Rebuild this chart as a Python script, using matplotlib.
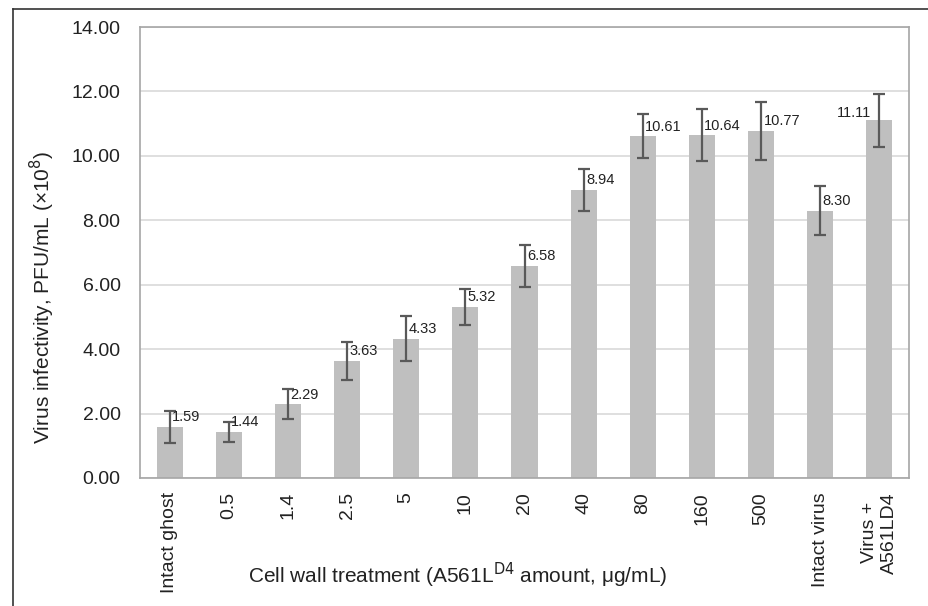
import numpy as np
import matplotlib.pyplot as plt
from matplotlib.lines import Line2D

plt.rcParams['font.family'] = ['Liberation Sans', 'DejaVu Sans']

categories = ["Intact ghost", "0.5", "1.4", "2.5", "5", "10", "20", "40",
              "80", "160", "500", "Intact virus", "Virus +\nA561LD4"]
values = [1.59, 1.44, 2.29, 3.63, 4.33, 5.32, 6.58, 8.94,
          10.61, 10.64, 10.77, 8.30, 11.11]
errors = [0.50, 0.31, 0.47, 0.58, 0.70, 0.56, 0.65, 0.65,
          0.68, 0.80, 0.90, 0.76, 0.82]

fig = plt.figure(figsize=(9.29, 6.06), dpi=100)
ax = fig.add_axes([140 / 929, 1 - 478 / 606, 769 / 929, 451 / 606])

x = np.arange(len(categories))
ax.bar(x, values, width=0.44, color="#bfbfbf", zorder=2)
ax.errorbar(x, values, yerr=errors, fmt="none", ecolor="#595959",
            elinewidth=1.6, capsize=4.5, capthick=1.6, zorder=3)

# value labels next to the error bars
for i, (v, e) in enumerate(zip(values, errors)):
    if i == len(values) - 1:
        ax.text(i - 0.14, v + 0.23, f"{v:.2f}", ha="right", va="center",
                fontsize=10.5, color="#222222", zorder=4)
    else:
        ax.text(i + 0.04, v + 0.3, f"{v:.2f}", ha="left", va="center",
                fontsize=10.5, color="#222222", zorder=4)

ax.set_xlim(-0.5, len(categories) - 0.5)
ax.set_ylim(0, 14)
ax.set_yticks(np.arange(0, 14.1, 2))
ax.set_yticklabels([f"{t:.2f}" for t in np.arange(0, 14.1, 2)])
ax.set_xticks(x)
ax.set_xticklabels(categories, rotation=90, va="top", ha="center",
                   multialignment="center")
ax.tick_params(axis="both", length=0, labelsize=14, colors="#222222")
ax.tick_params(axis="x", pad=10)
ax.tick_params(axis="y", pad=14)
ax.grid(axis="y", color="#d9d9d9", linewidth=1.2, zorder=0)
ax.set_axisbelow(True)
for s in ax.spines.values():
    s.set_color("#a6a6a6")
    s.set_linewidth(1.2)

fig.text(42 / 929, 1 - 297 / 606, "Virus infectivity, PFU/mL (×10$^{8}$)",
         rotation=90, ha="center", va="center", fontsize=15, color="#222222")
fig.text(458 / 929, 1 - 575 / 606,
         "Cell wall treatment (A561L$^{\\mathrm{D4}}$ amount, μg/mL)",
         ha="center", va="center", fontsize=15, color="#222222")

# outer frame lines (left and top)
fig.add_artist(Line2D([13 / 929, 13 / 929], [0, 1 - 9 / 606],
                      transform=fig.transFigure, color="#333333", linewidth=1.2))
fig.add_artist(Line2D([13 / 929, 1], [1 - 9 / 606, 1 - 9 / 606],
                      transform=fig.transFigure, color="#333333", linewidth=1.2))

fig.savefig("out.png", dpi=100, facecolor="white")
